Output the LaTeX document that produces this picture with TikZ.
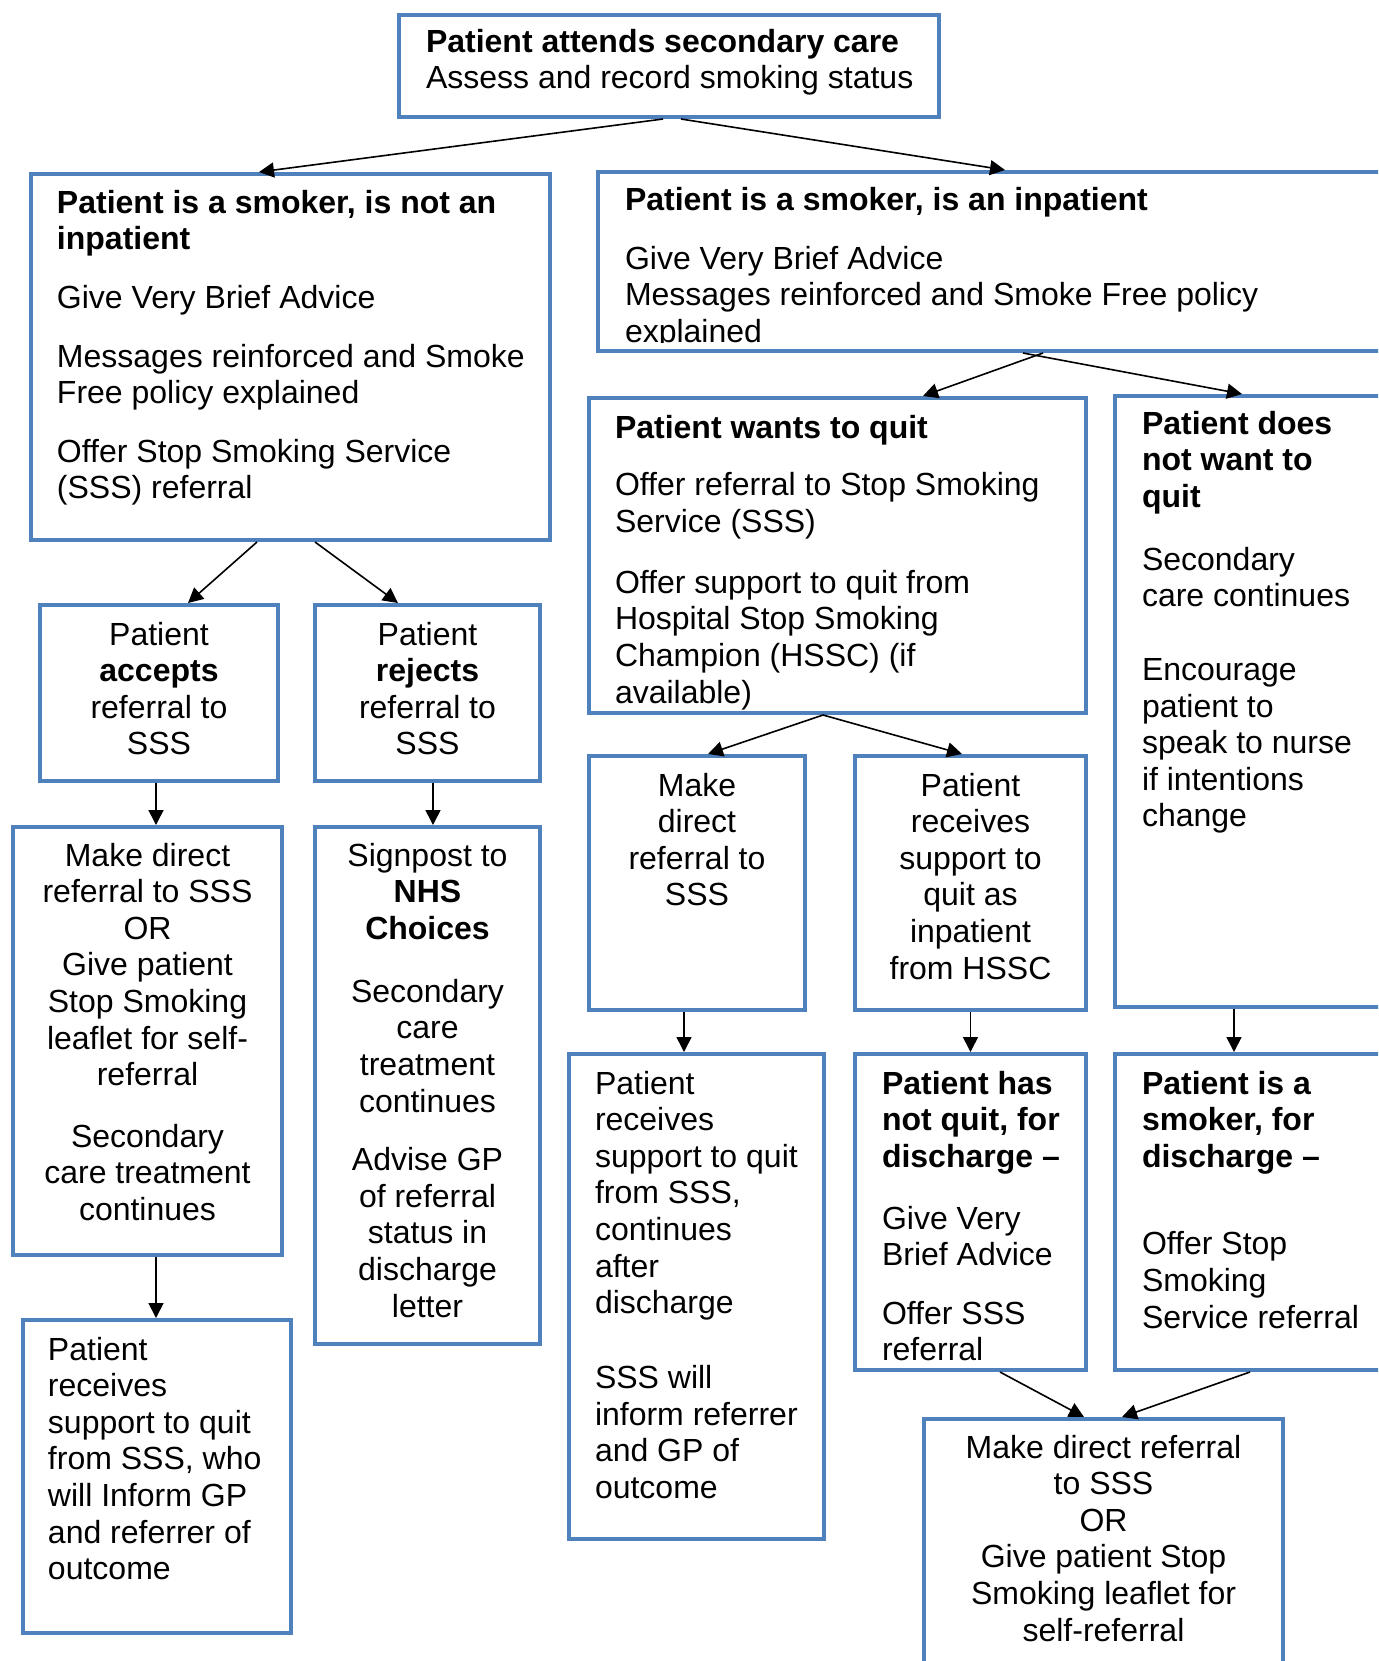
\documentclass[tikz,border=0pt]{standalone}
\usepackage{fontspec}
\setmainfont{Liberation Sans}
\usetikzlibrary{arrows.meta, calc}
\definecolor{nhsblue}{HTML}{4F81BD}
% box text: width, height, alignment, first baseline, lines
\newcommand{\stagetext}[5]{%
  \parbox[t][#2][t]{#1}{#3\vspace*{\dimexpr#4-\ht\strutbox\relax}\strut#5}}
\newcommand{\lefttext}[5]{\stagetext{#1}{#2}{\raggedright\leftskip=#3\relax}{#4}{#5}}
\newcommand{\midtext}[4]{\stagetext{#1}{#2}{\centering}{#3}{#4}}
\tikzset{
  stage/.style={draw=nhsblue, line width=2pt, inner sep=0pt, outer sep=1pt,
    anchor=north west},
  flow/.style={-{Triangle[length=7.5pt,width=7.5pt]}, line width=0.8pt}
}
\begin{document}
\begin{tikzpicture}[x=0.5pt, y=-0.5pt, font=\fontsize{16}{18.3}\selectfont]
  \useasboundingbox (0,0) rectangle (1378,1661);
  \clip (0,0) rectangle (1378,1661);
  \node[stage] (start) at (397,13) {\lefttext{270pt}{51pt}{13.5pt}{18.5pt}{%
    \textbf{Patient attends secondary care}\\ Assess and record smoking status}};
  \node[stage] (notin) at (29,172) {\lefttext{259.5pt}{183pt}{13pt}{19.5pt}{%
    \textbf{Patient is a smoker, is not an}\\ \textbf{inpatient}\\[11.25pt]
    Give Very Brief Advice\\[11pt] Messages reinforced and Smoke\\
    Free policy explained\\[10.75pt] Offer Stop Smoking Service\\ (SSS) referral}};
  \node[stage] (inpat) at (596,170) {\lefttext{401pt}{89.5pt}{13.5pt}{19pt}{%
    \textbf{Patient is a smoker, is an inpatient}\\[11.25pt] Give Very Brief Advice\\
    Messages reinforced and Smoke Free policy\\ explained}};
  \fill[white] ($(inpat.south west)+(24,-10.5)$) rectangle ($(inpat.south west)+(170,-4)$);
  \node[stage] (wantq) at (587,396) {\lefttext{248.5pt}{157.5pt}{13pt}{20pt}{%
    \textbf{Patient wants to quit}\\[10.5pt] Offer referral to Stop Smoking\\
    Service (SSS)\\[12.25pt] Offer support to quit from\\ Hospital Stop Smoking\\
    Champion (HSSC) (if\\ available)}};
  \node[stage] (nowant) at (1113,394) {\lefttext{142.5pt}{305.5pt}{13.5pt}{19pt}{%
    \textbf{Patient does}\\ \textbf{not want to}\\ \textbf{quit}\\[13.25pt]
    Secondary\\ care continues\\[18.5pt] Encourage\\ patient to\\ speak to nurse\\
    if intentions\\ change}};
  \node[stage] (accept) at (38,603) {\midtext{119pt}{88pt}{20pt}{%
    Patient\\ \textbf{accepts}\\ referral to\\ SSS}};
  \node[stage] (reject) at (313,603) {\midtext{112.5pt}{88pt}{20pt}{%
    Patient\\ \textbf{rejects}\\ referral to\\ SSS}};
  \node[stage] (direct) at (11,825) {\midtext{134.5pt}{214pt}{19.5pt}{%
    Make direct\\ referral to SSS\\ OR\\ Give patient\\ Stop Smoking\\
    leaflet for self-\\ referral\\[12.5pt] Secondary\\ care treatment\\ continues}};
  \node[stage] (signpost) at (313,825) {\midtext{112.5pt}{258.5pt}{19.5pt}{%
    Signpost to\\ \textbf{NHS}\\ \textbf{Choices}\\[13.25pt] Secondary\\ care\\
    treatment\\ continues\\[11pt] Advise GP\\ of referral\\ status in\\
    discharge\\ letter}};
  \node[stage] (inform) at (21,1318) {\lefttext{134pt}{156.5pt}{12.5pt}{20pt}{%
    Patient\\ receives\\ support to quit\\ from SSS, who\\ will Inform GP\\
    and referrer of\\ outcome}};
  \node[stage] (mkref) at (587,754) {\midtext{108pt}{127pt}{20pt}{%
    Make\\ direct\\ referral to\\ SSS}};
  \node[stage] (hssc) at (853,754) {\midtext{115.5pt}{127pt}{20pt}{%
    Patient\\ receives\\ support to\\ quit as\\ inpatient\\ from HSSC}};
  \node[stage] (ssssupp) at (567,1052) {\lefttext{127.5pt}{242.5pt}{13pt}{20pt}{%
    Patient\\ receives\\ support to quit\\ from SSS,\\ continues\\ after\\
    discharge\\[19.25pt] SSS will\\ inform referrer\\ and GP of\\ outcome}};
  \node[stage] (notquit) at (853,1052) {\lefttext{115.5pt}{158pt}{13.5pt}{20pt}{%
    \textbf{Patient has}\\ \textbf{not quit, for}\\ \textbf{discharge –}\\[12.75pt]
    Give Very\\ Brief Advice\\[10.75pt] Offer SSS\\ referral}};
  \node[stage] (smokedis) at (1113,1052) {\lefttext{142.5pt}{158pt}{13.5pt}{20pt}{%
    \textbf{Patient is a}\\ \textbf{smoker, for}\\ \textbf{discharge –}\\[25.5pt]
    Offer Stop\\ Smoking\\ Service referral}};
  \node[stage] (final) at (922,1417) {\midtext{179.5pt}{130.5pt}{19.5pt}{%
    Make direct referral\\ to SSS\\ OR\\ Give patient Stop\\
    Smoking leaflet for\\ self-referral}};
  \draw[every edge/.append style={flow}]
    ([xshift=-3pt]start.south) edge ([xshift=-15.75pt]notin.north)
    ([xshift=6pt]start.south) edge ([xshift=3pt]inpat.north)
    ([xshift=-16.75pt]notin.south) edge ([xshift=14.5pt]accept.north)
    ([xshift=12.25pt]notin.south) edge ([xshift=-14.75pt]reject.north)
    ([xshift=-1.5pt]accept.south) edge ([xshift=4.25pt]direct.north)
    ([xshift=2.75pt]reject.south) edge ([xshift=2.75pt]signpost.north)
    ([xshift=4.25pt]direct.south) edge ([xshift=-0.5pt]inform.north)
    ([xshift=22pt]inpat.south) edge ([xshift=42.75pt]wantq.north)
    ([xshift=12pt]inpat.south) edge ([xshift=-7.75pt]nowant.north)
    ([xshift=-7.25pt]wantq.south) edge ([xshift=5.5pt]mkref.north)
    ([xshift=-7.25pt]wantq.south) edge ([xshift=-4.25pt]hssc.north)
    ([xshift=-6.5pt]mkref.south) edge ([xshift=-6.25pt]ssssupp.north)
    (hssc.south) edge (notquit.north)
    ([xshift=-11.75pt]nowant.south) edge ([xshift=-11.75pt]smokedis.north)
    ([xshift=14.75pt]notquit.south) edge ([xshift=-9.75pt]final.north)
    ([xshift=-3.75pt]smokedis.south) edge ([xshift=9.25pt]final.north);
\end{tikzpicture}
\end{document}
